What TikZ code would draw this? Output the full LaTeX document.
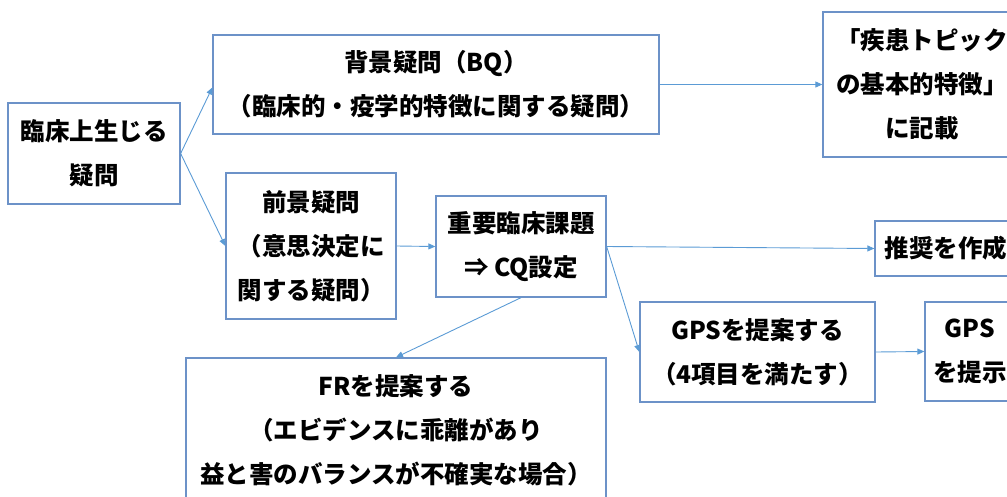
\documentclass[tikz,border=0pt]{standalone}
\usepackage{fontspec}
\newfontfamily\jp{Noto Sans CJK JP}
\usetikzlibrary{arrows.meta}
\definecolor{boxc}{RGB}{108,146,200}
\definecolor{arrc}{RGB}{91,155,213}
\tikzset{
  box/.style={draw=boxc, line width=1.3pt, rectangle, inner sep=0pt, align=center,
    font=\jp\bfseries\fontsize{24.5}{44}\selectfont, text=black},
  conn/.style={draw=arrc, line width=0.9pt, -{Triangle[length=7pt,width=6pt]}}
}
\begin{document}
\begin{tikzpicture}[x=1pt,y=-1pt]
\useasboundingbox (0,0) rectangle (1007,496);
\clip (0,0) rectangle (1007,496);
\node[box, minimum width=172pt, minimum height=101pt] (A) at (94,153.5) {臨床上生じる\\疑問};
\node[box, minimum width=446pt, minimum height=99pt] (B) at (436,84.5) {背景疑問（BQ）\\（臨床的・疫学的特徴に関する疑問）};
\node[box, minimum width=198pt, minimum height=145pt] (C) at (922,84.5) {「疾患トピック\\の基本的特徴」\\に記載};
\node[box, minimum width=170pt, minimum height=146pt] (D) at (311,246) {前景疑問\\（意思決定に\\関する疑問）};
\node[box, minimum width=170pt, minimum height=101pt] (E) at (521,246.5) {重要臨床課題\\⇒ CQ設定};
\node[box, minimum width=142pt, minimum height=55pt] (F) at (946,248.5) {推奨を作成};
\node[box, minimum width=90pt, minimum height=99pt] (I) at (970,351.5) {GPS\\を提示};
\node[box, minimum width=235pt, minimum height=100pt] (G) at (757.5,352) {GPSを提案する\\（4項目を満たす）};
\node[box, minimum width=420pt, minimum height=144pt] (H) at (396,430) {FRを提案する\\（エビデンスに乖離があり\\益と害のバランスが不確実な場合）};
\draw[conn] (A.east) -- ([yshift=-3pt]B.west);
\draw[conn] (A.east) -- (D.west);
\draw[conn] (B.east) -- (C.west);
\draw[conn] (D.east) -- (E.west);
\draw[conn] (E.east) -- (F.west);
\draw[conn] (E.east) -- (G.west);
\draw[conn] (E.south) -- (H.north);
\draw[conn] (G.east) -- (I.west);
\end{tikzpicture}
\end{document}
